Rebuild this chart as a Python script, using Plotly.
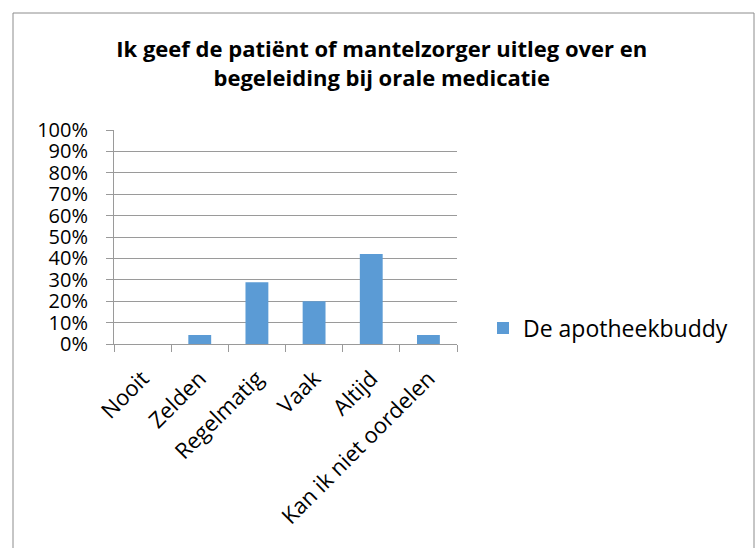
import plotly.graph_objects as go

categories = ["Nooit", "Zelden", "Regelmatig", "Vaak", "Altijd", "Kan ik niet oordelen"]
values = [0.0, 0.042, 0.288, 0.20, 0.421, 0.042]
series_name = "De apotheekbuddy"
title_text = "Ik geef de patiënt of mantelzorger uitleg over en<br>begeleiding bij orale medicatie"
y_ticks = [i / 10 for i in range(11)]
y_tick_labels = [f"{i * 10}%" for i in range(11)]

FONT = "Open Sans"
W, H = 756, 548
L, R, T, B = 114, 457, 130, 344

fig = go.Figure()
fig.add_trace(go.Bar(
    x=categories, y=values, name=series_name,
    marker=dict(color="#5b9bd5", line=dict(width=0)),
    showlegend=True,
))

def px_to_paper_x(px):
    return (px - L) / (R - L)

def px_to_paper_y(py):
    return (B - py) / (B - T)

fig.update_layout(
    width=W, height=H,
    margin=dict(l=L, r=W - R, t=T, b=H - B, pad=0, autoexpand=False),
    paper_bgcolor="white", plot_bgcolor="white",
    font=dict(family=FONT, size=20, color="#000000"),
    title=dict(
        text=title_text,
        font=dict(family=FONT, size=22, color="#000000", weight="bold"),
        x=0.505, xanchor="center", xref="container",
        y=1 - 57 / H, yanchor="top", yref="container",
    ),
    bargap=0.6,
    showlegend=True,
    legend=dict(
        x=px_to_paper_x(483), xanchor="left",
        y=px_to_paper_y(328), yanchor="middle",
        font=dict(family=FONT, size=23, color="#000000"),
        bgcolor="rgba(0,0,0,0)",
    ),
    xaxis=dict(
        type="category", automargin=False,
        showline=True, linecolor="#9a9a9a", linewidth=1,
        ticks="outside", tickson="boundaries", ticklen=7, tickcolor="#9a9a9a",
        tickangle=-45, showgrid=False,
        ticklabelstandoff=12,
        tickfont=dict(family=FONT, size=22, color="#000000"),
    ),
    yaxis=dict(
        range=[0, 1], tickvals=y_ticks, ticktext=y_tick_labels,
        automargin=False,
        showline=True, linecolor="#9a9a9a", linewidth=1,
        ticks="outside", ticklen=7, tickcolor="#9a9a9a",
        showgrid=True, gridcolor="#9a9a9a", gridwidth=1,
        zeroline=False,
        ticklabelstandoff=14,
        tickfont=dict(family=FONT, size=20, color="#000000"),
    ),
    shapes=[dict(
        type="rect", xref="paper", yref="paper",
        x0=px_to_paper_x(13), x1=px_to_paper_x(754),
        y0=px_to_paper_y(600), y1=px_to_paper_y(13),
        line=dict(color="#8c8c8c", width=1), fillcolor="rgba(0,0,0,0)",
        layer="below",
    )],
)

fig.write_html(
    "out.html",
    config={"displayModeBar": False},
    post_script="document.body.style.margin='0';document.body.style.padding='0';",
)
